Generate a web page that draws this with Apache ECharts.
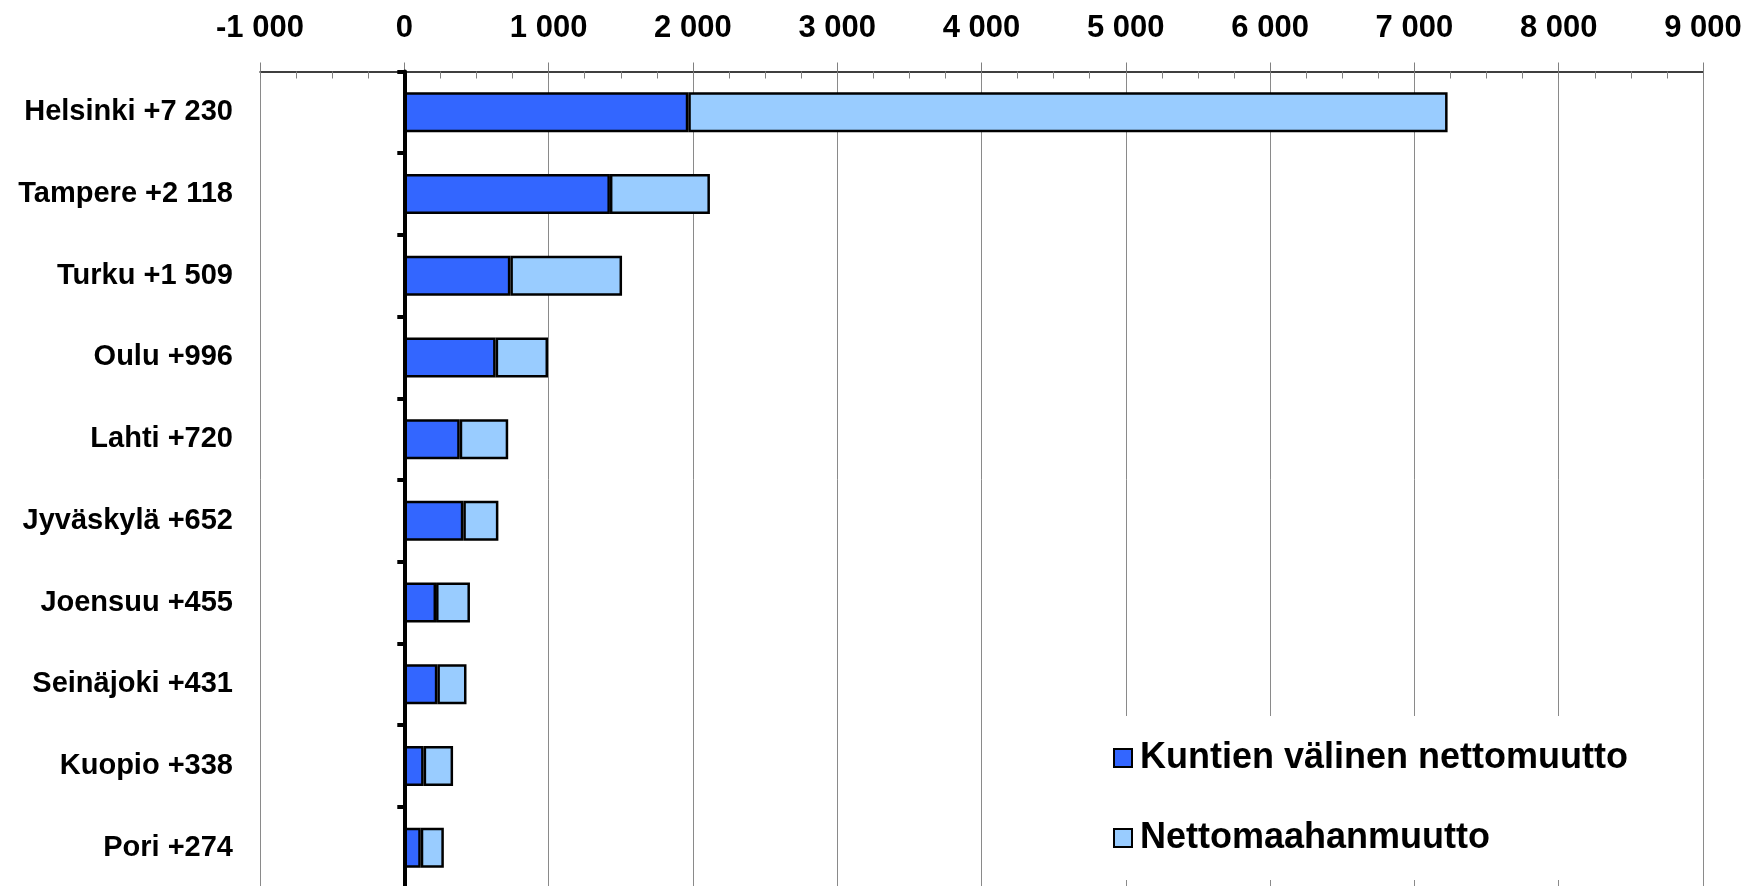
<!DOCTYPE html>
<html>
<head>
<meta charset="utf-8">
<script src="https://cdn.jsdelivr.net/npm/echarts@6/dist/echarts.min.js"></script>
<style>
html,body{margin:0;padding:0;background:#fff;}
#chart{width:1747px;height:886px;}
</style>
</head>
<body>
<div id="chart"></div>
<script>
// Data
const categories = ['Helsinki +7 230','Tampere +2 118','Turku +1 509','Oulu +996','Lahti +720','Jyväskylä +652','Joensuu +455','Seinäjoki +431','Kuopio +338','Pori +274'];
const kuntienValinen = [1968, 1425, 735, 633, 384, 409, 220, 229, 134, 114];
const nettomaahanmuutto = [5262, 693, 774, 363, 336, 243, 235, 202, 204, 160];
const seriesNames = ['Kuntien välinen nettomuutto', 'Nettomaahanmuutto'];
const xMin = -1000, xMax = 9000, xStep = 1000;

const FONT = "'Liberation Sans', Arial, sans-serif";
function fmt(v){
  const s = Math.abs(v).toString().replace(/\B(?=(\d{3})+(?!\d))/g, ' ');
  return (v < 0 ? '-' : '') + s;
}

const chart = echarts.init(document.getElementById('chart'), null, {renderer:'canvas'});
chart.setOption({
  animation: false,
  backgroundColor: '#fff',
  grid: {left: 260, top: 71.5, width: 1443, height: 817, containLabel: false, outerBoundsMode: 'none'},
  legend: {
    orient: 'vertical',
    left: 1105, top: 716,
    padding: [22, 14, 22, 8],
    backgroundColor: '#fff',
    itemWidth: 18, itemHeight: 18, itemGap: 40,
    icon: 'rect',
    itemStyle: {borderColor: '#000', borderWidth: 2},
    textStyle: {fontFamily: FONT, fontWeight: 'bold', fontSize: 36, color: '#000', lineHeight: 40, padding: [0,0,0,3]},
    data: seriesNames
  },
  xAxis: [
    {
      type: 'value', position: 'top', min: xMin, max: xMax, interval: xStep,
      axisLine: {show: true, lineStyle: {color: '#000', width: 1.5}},
      axisTick: {show: true, inside: false, length: 9, lineStyle: {color: '#808080', width: 1}},
      axisLabel: {show: true, margin: 28, formatter: fmt, showMinLabel: true, showMaxLabel: true,
        fontFamily: FONT, fontWeight: 'bold', fontSize: 31, color: '#000'},
      splitLine: {show: true, lineStyle: {color: '#8a8a8a', width: 1}}
    },
    {
      type: 'value', position: 'top', min: xMin, max: xMax, interval: 250,
      axisLine: {show: false},
      axisTick: {show: true, inside: true, length: 7, lineStyle: {color: '#808080', width: 1}},
      axisLabel: {show: false},
      splitLine: {show: false}
    }
  ],
  yAxis: [
    {
      type: 'category', data: categories, inverse: true, position: 'left',
      axisLine: {show: false, onZero: false},
      axisTick: {show: false},
      axisLabel: {margin: 27, padding: [4, 0, 0, 0], fontFamily: FONT, fontWeight: 'bold', fontSize: 29, color: '#000'},
      splitLine: {show: false}
    },
    {
      type: 'category', data: categories, inverse: true, position: 'left',
      axisLine: {show: true, onZero: true, lineStyle: {color: '#000', width: 4}},
      axisTick: {show: true, length: 7, lineStyle: {color: '#000', width: 4}},
      axisLabel: {show: false},
      splitLine: {show: false},
      z: 5
    }
  ],
  series: [
    {
      name: seriesNames[0], type: 'bar', stack: 'total', xAxisIndex: 0, yAxisIndex: 0,
      data: kuntienValinen, barWidth: 40,
      itemStyle: {color: '#3366FF', borderColor: '#000', borderWidth: 2.5}
    },
    {
      name: seriesNames[1], type: 'bar', stack: 'total', xAxisIndex: 0, yAxisIndex: 0,
      data: nettomaahanmuutto, barWidth: 40,
      itemStyle: {color: '#99CCFF', borderColor: '#000', borderWidth: 2.5}
    }
  ]
});
</script>
</body>
</html>
